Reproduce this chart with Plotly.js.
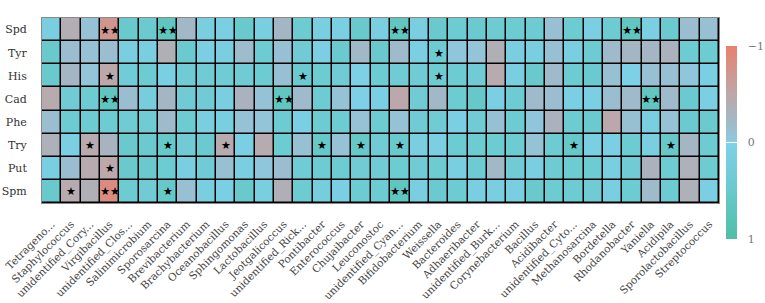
<!DOCTYPE html>
<html>
<head>
<meta charset="utf-8">
<script src="https://cdn.plot.ly/plotly-3.0.1.min.js"></script>
<style>html,body{margin:0;padding:0;background:#fff;}#chart{width:765px;height:303px;}</style>
</head>
<body>
<div id="chart"></div>
<script>
const genera = ["Tetrageno...","Staphylococcus","unidentified_Cory...","Virgibacillus","unidentified_Clos...","Salinimicrobium","Sporosarcina","Brevibacterium","Brachybacterium","Oceanobacillus","Sphingomonas","Lactobacillus","Jeotgalicoccus","unidentified_Rick...","Pontibacter","Enterococcus","Chujaibacter","Leuconostoc","unidentified_Cyan...","Bifidobacterium","Weissella","Bacteroides","Adhaeribacter","unidentified_Burk...","Corynebacterium","Bacillus","Acidibacter","unidentified_Cyto...","Methanosarcina","Bordetella","Rhodanobacter","Yaniella","Acidipila","Sporolactobacillus","Streptococcus"];
const amines = ["Spd","Tyr","His","Cad","Phe","Try","Put","Spm"];

const Spd = [0.15,-0.4,-0.1,-0.72,0.5,0.45,0.68,-0.22,0.15,0.1,0.5,0.15,-0.25,0.4,0.15,0.1,0.5,0.15,0.66,0.15,0.5,0.4,0.45,0.4,0.4,0.4,-0.12,0.4,0.1,0.4,0.66,0.1,0.45,-0.15,-0.12];
const Tyr = [0.5,-0.15,-0.1,-0.15,0.15,0.15,-0.38,0.45,0.1,0.15,-0.18,0.4,-0.12,0.35,0.1,0.45,-0.22,0.5,-0.2,0.1,0.4,-0.05,-0.08,-0.38,0.15,0.15,-0.12,0.15,0.4,-0.2,-0.25,-0.25,-0.32,0.4,0.4];
const His = [0.5,-0.25,-0.08,-0.5,0.3,0.4,0.1,0.35,0.35,0.35,0.35,0.4,-0.12,0.45,0.4,0.35,0.05,0.4,0.35,0.35,0.4,0.4,0.35,-0.45,0.15,0.5,-0.2,0.4,0.45,-0.12,0.05,-0.12,-0.12,-0.05,0.1];
const Cad = [-0.45,0.35,0.4,0.7,-0.15,0.2,-0.25,0.35,0.35,0.15,-0.3,-0.1,0.66,-0.2,0.4,-0.1,0.05,0.1,-0.5,0.35,-0.22,0.4,0.55,0.1,0.4,-0.2,-0.15,0.1,0.1,-0.15,-0.2,0.66,-0.2,0.45,0.1];
const Phe = [-0.15,0.4,0.4,0.4,0.35,0.35,-0.2,0.4,0.15,0.15,-0.1,-0.08,0.4,0.1,0.4,0.4,-0.1,0.4,-0.1,0.35,0.35,0.1,0.35,-0.12,0.4,-0.05,-0.32,0.4,0.45,-0.5,-0.12,0.15,-0.1,0.45,0.45];
const Try = [-0.35,0.1,-0.45,-0.3,0.5,0.45,0.55,0.35,0.45,-0.45,0.1,-0.45,0.4,-0.12,0.55,-0.1,0.55,0.35,0.5,0.15,0.1,0.4,0.4,0.4,0.4,-0.1,0.4,0.55,0.1,0.1,0.4,0.15,0.55,-0.25,0.4];
const Put = [0.15,-0.15,-0.45,-0.5,0.5,0.5,0.4,0.15,0.35,-0.12,0.15,-0.05,-0.15,0.35,0.4,0.4,0.35,0.35,0.4,0.35,0.4,0.15,0.4,-0.22,0.35,0.15,0.4,0.4,0.4,0.15,0.35,-0.32,0.4,-0.35,0.4];
const Spm = [0.5,-0.45,-0.38,-0.85,0.4,0.35,0.55,-0.12,0.15,0.1,0.5,0.15,-0.38,0.4,0.2,0.1,0.4,0.4,0.66,0.15,0.45,0.4,0.15,0.15,0.15,0.5,0.4,0.4,0.35,0.15,0.4,-0.2,0.4,-0.35,0.1];

// significance marks per row: [column index, mark]
const sigSpd = [[3,"★★"],[6,"★★"],[18,"★★"],[30,"★★"]];
const sigTyr = [[20,"★"]];
const sigHis = [[3,"★"],[13,"★"],[20,"★"]];
const sigCad = [[3,"★★"],[12,"★★"],[31,"★★"]];
const sigPhe = [];
const sigTry = [[2,"★"],[6,"★"],[9,"★"],[14,"★"],[16,"★"],[18,"★"],[27,"★"],[32,"★"]];
const sigPut = [[3,"★"]];
const sigSpm = [[1,"★"],[3,"★★"],[6,"★"],[18,"★★"]];

const rows = [Spd,Tyr,His,Cad,Phe,Try,Put,Spm];
const sigs = [sigSpd,sigTyr,sigHis,sigCad,sigPhe,sigTry,sigPut,sigSpm];

// colorbar shows -1 at top, so plot the negated value and relabel ticks
const z = rows.map(r => r.map(v => -v));
const text = sigs.map(s => {
  const t = genera.map(() => "");
  s.forEach(([c, m]) => { t[c] = m; });
  return t;
});

const SERIF = "'DejaVu Serif', 'Liberation Serif', serif";

const trace = {
  type: "heatmap",
  x: genera,
  y: amines,
  z: z,
  customdata: rows,
  text: text,
  texttemplate: "%{text}",
  textfont: {color: "#000", size: 11, family: "DejaVu Sans"},
  hovertemplate: "%{y} / %{x}: %{customdata:.2f}<extra></extra>",
  zmin: -1, zmax: 1,
  xgap: 1.5, ygap: 1.5,
  colorscale: [
    [0, "#4fbea8"],
    [0.25, "#69c9cc"],
    [0.497, "#7fd1e8"],
    [0.4975, "#ffffff"],
    [0.5025, "#ffffff"],
    [0.503, "#8ccae0"],
    [0.625, "#a4b6c4"],
    [0.75, "#bca8aa"],
    [1, "#e8806e"]
  ],
  colorbar: {
    thickness: 11,
    len: 193, lenmode: "pixels",
    x: (726 - 42) / 677, xanchor: "left",
    y: (203 - 142.5) / 185, yanchor: "middle",
    xpad: 0, ypad: 0,
    outlinewidth: 0,
    tickvals: [-1, 0, 1],
    ticktext: ["1", "0", "−1"],
    ticks: "outside", ticklen: 9, tickcolor: "rgba(0,0,0,0)",
    tickfont: {family: SERIF, size: 11, color: "#777"}
  }
};

const layout = {
  width: 765, height: 303,
  margin: {l: 42, r: 46, t: 18, b: 100, autoexpand: false},
  paper_bgcolor: "#fff",
  plot_bgcolor: "#000",
  font: {family: SERIF, color: "#333"},
  xaxis: {
    type: "category",
    tickangle: -45,
    tickfont: {family: SERIF, size: 10.5, color: "#444"},
    ticks: "", showgrid: false, zeroline: false,
    showline: true, mirror: true, linecolor: "#888", linewidth: 1,
    ticklabelstandoff: 10,
    automargin: false
  },
  yaxis: {
    type: "category",
    autorange: "reversed",
    tickfont: {family: SERIF, size: 11, color: "#333"},
    ticks: "", showgrid: false, zeroline: false,
    showline: true, mirror: true, linecolor: "#888", linewidth: 1,
    ticklabelstandoff: 12,
    automargin: false
  }
};

Plotly.newPlot("chart", [trace], layout, {displayModeBar: false, staticPlot: true});
</script>
</body>
</html>
